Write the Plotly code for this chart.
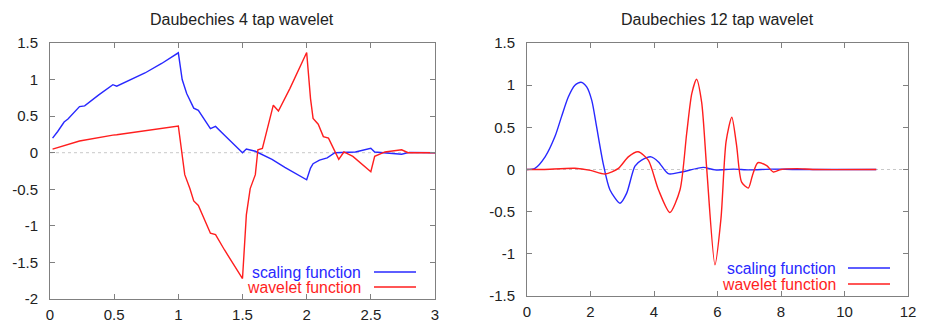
import plotly.graph_objects as go

# ---------------- data ----------------
d4_x_scaling = [0.02, 0.06, 0.11, 0.14, 0.23, 0.27, 0.38, 0.49, 0.52, 0.62, 0.74, 0.87, 1.0,
                1.03, 1.065, 1.12, 1.156, 1.25, 1.29, 1.36, 1.5, 1.53, 1.6, 1.73, 1.83, 2.0,
                2.03, 2.05, 2.10, 2.16, 2.22, 2.38, 2.5, 2.53, 2.74, 2.8, 3.0]
d4_scaling = [0.20, 0.29, 0.42, 0.46, 0.63, 0.64, 0.79, 0.93, 0.91, 0.99, 1.09, 1.22, 1.366,
              1.0, 0.81, 0.61, 0.58, 0.33, 0.36, 0.24, 0.0, 0.05, 0.02, -0.09, -0.20, -0.37,
              -0.21, -0.15, -0.10, -0.07, 0.0, 0.01, 0.06, 0.01, -0.02, 0.005, 0.0]

d4_x_wavelet = [0.02, 0.23, 0.49, 0.52, 1.0, 1.03, 1.05, 1.09, 1.12, 1.156, 1.25, 1.29, 1.36,
                1.5, 1.53, 1.56, 1.6, 1.62, 1.655, 1.74, 1.78, 1.87, 2.0, 2.03, 2.05, 2.09,
                2.13, 2.17, 2.25, 2.29, 2.36, 2.5, 2.53, 2.61, 2.74, 2.79, 3.0]
d4_wavelet = [0.05, 0.16, 0.24, 0.245, 0.366, -0.08, -0.30, -0.49, -0.66, -0.72, -1.10, -1.12,
              -1.33, -1.72, -0.85, -0.49, -0.30, 0.04, 0.06, 0.65, 0.57, 0.88, 1.37, 0.74, 0.47,
              0.39, 0.22, 0.20, -0.09, 0.01, -0.05, -0.26, -0.05, 0.01, 0.04, 0.0, 0.0]

d12_x_scaling = [0, 0.25, 0.57, 0.88, 1.09, 1.30, 1.51, 1.70, 1.88, 2.04, 2.19, 2.40, 2.61,
                 2.93, 3.14, 3.40, 3.61, 3.91, 4.14, 4.45, 4.87, 5.55, 5.92, 6.5, 7.0, 7.7,
                 8.5, 11]
d12_scaling = [0, 0.014, 0.15, 0.39, 0.63, 0.86, 1.0, 1.035, 0.98, 0.82, 0.51, 0.07, -0.24,
               -0.40, -0.28, 0.04, 0.11, 0.15, 0.09, -0.05, -0.03, 0.025, -0.005, 0.005,
               -0.005, 0.005, 0.0, 0.0]

d12_x_wavelet = [0, 0.5, 1.51, 2.0, 2.46, 2.88, 3.19, 3.5, 3.82, 4.14, 4.50, 4.82, 5.03, 5.19,
                 5.34, 5.5, 5.66, 5.92, 6.11, 6.27, 6.45, 6.6, 6.76, 6.97, 7.1, 7.27, 7.55,
                 7.76, 8.0, 8.5, 9, 11]
d12_wavelet = [0, 0.0, 0.014, -0.01, -0.053, 0.014, 0.15, 0.21, 0.11, -0.24, -0.51, -0.24,
               0.43, 0.90, 1.07, 0.80, 0.01, -1.13, -0.58, 0.33, 0.62, 0.29, -0.15, -0.22,
               -0.07, 0.08, 0.045, -0.03, 0.0, 0.01, 0.0, 0.0]

titles = ["Daubechies 4 tap wavelet", "Daubechies 12 tap wavelet"]
series_names = ["scaling function", "wavelet function"]

left_xticks = [0, 0.5, 1, 1.5, 2, 2.5, 3]
left_xlabels = ["0", "0.5", "1", "1.5", "2", "2.5", "3"]
left_yticks = [1.5, 1, 0.5, 0, -0.5, -1, -1.5, -2]
left_ylabels = ["1.5", "1", "0.5", "0", "-0.5", "-1", "-1.5", "-2"]
right_xticks = [0, 2, 4, 6, 8, 10, 12]
right_xlabels = ["0", "2", "4", "6", "8", "10", "12"]
right_yticks = [1.5, 1, 0.5, 0, -0.5, -1, -1.5]
right_ylabels = ["1.5", "1", "0.5", "0", "-0.5", "-1", "-1.5"]

# ---------------- styling ----------------
BLUE = "rgb(40,40,255)"
RED = "rgb(255,30,30)"
FRAME = "rgb(128,128,128)"
FONT = "Liberation Sans, Arial, sans-serif"
OFF = 8                      # page body margin
W, H = 925 - OFF, 323 - OFF  # figure fits the window exactly


def px(x):
    return (x - OFF) / W


def py(y):
    return 1 - (y - OFF) / H


fig = go.Figure()
fig.add_trace(go.Scatter(x=d4_x_scaling, y=d4_scaling, mode="lines", name=series_names[0],
                         line=dict(color=BLUE, width=1.4), xaxis="x", yaxis="y"))
fig.add_trace(go.Scatter(x=d4_x_wavelet, y=d4_wavelet, mode="lines", name=series_names[1],
                         line=dict(color=RED, width=1.4), xaxis="x", yaxis="y"))
fig.add_trace(go.Scatter(x=d12_x_scaling, y=d12_scaling, mode="lines", name=series_names[0],
                         line=dict(color=BLUE, width=1.4, shape="spline", smoothing=0.7),
                         xaxis="x2", yaxis="y2"))
fig.add_trace(go.Scatter(x=d12_x_wavelet, y=d12_wavelet, mode="lines", name=series_names[1],
                         line=dict(color=RED, width=1.4, shape="spline", smoothing=0.7),
                         xaxis="x2", yaxis="y2"))


def axis(domain, rng, tickvals, ticktext, anchor):
    return dict(domain=domain, range=rng, tickmode="array", tickvals=tickvals, ticktext=ticktext,
                ticks="inside", ticklen=5, tickcolor=FRAME, showline=True, linecolor=FRAME,
                linewidth=1, mirror="allticks", showgrid=False, zeroline=False, anchor=anchor,
                automargin=False,
                tickfont=dict(family=FONT, size=15, color="#222"), fixedrange=True)


L0, L1 = px(50), px(435)
R0, R1 = px(527), px(908)
yl = [py(299), py(43)]
yr = [py(296), py(43)]

fig.update_layout(
    width=W, height=H, margin=dict(l=0, r=0, t=0, b=0),
    paper_bgcolor="white", plot_bgcolor="white", showlegend=False,
    xaxis=axis([L0, L1], [0, 3], left_xticks, left_xlabels, "y"),
    yaxis=axis(yl, [-2, 1.5], left_yticks, left_ylabels, "x"),
    xaxis2=axis([R0, R1], [0, 12], right_xticks, right_xlabels, "y2"),
    yaxis2=axis(yr, [-1.5, 1.5], right_yticks, right_ylabels, "x2"),
)
fig.layout.xaxis.ticklabelstandoff = 2
fig.layout.xaxis2.ticklabelstandoff = 2
fig.layout.yaxis.ticklabelstandoff = 8
fig.layout.yaxis2.ticklabelstandoff = 8

# dotted zero lines
for xr, yr_ in (("x domain", "y"), ("x2 domain", "y2")):
    fig.add_shape(type="line", xref=xr, yref=yr_, x0=0, x1=1, y0=0, y1=0,
                  line=dict(color="rgb(200,200,200)", width=1, dash="dot"), layer="below")

# titles
for title, (a, b) in zip(titles, ((L0, L1), (R0, R1))):
    fig.add_annotation(text=title, x=(a + b) / 2, y=py(20), xref="paper", yref="paper",
                       showarrow=False, font=dict(family=FONT, size=16, color="#222"),
                       xanchor="center", yanchor="middle")

# gnuplot-style keys (text then sample line), placed in pixel positions
keys = [
    (363, 374, 416, (272, 287)),
    (838, 848, 890, (268, 284)),
]
for (tx, lx0, lx1, rows) in keys:
    for name, color, ypix in zip(series_names, (BLUE, RED), rows):
        fig.add_annotation(text=name, x=px(tx), y=py(ypix), xref="paper", yref="paper",
                           showarrow=False, xanchor="right", yanchor="middle",
                           font=dict(family=FONT, size=15.8, color=color))
        fig.add_shape(type="line", xref="paper", yref="paper", x0=px(lx0), x1=px(lx1),
                      y0=py(ypix), y1=py(ypix), line=dict(color=color, width=1.4))

fig.write_html("out.html")
